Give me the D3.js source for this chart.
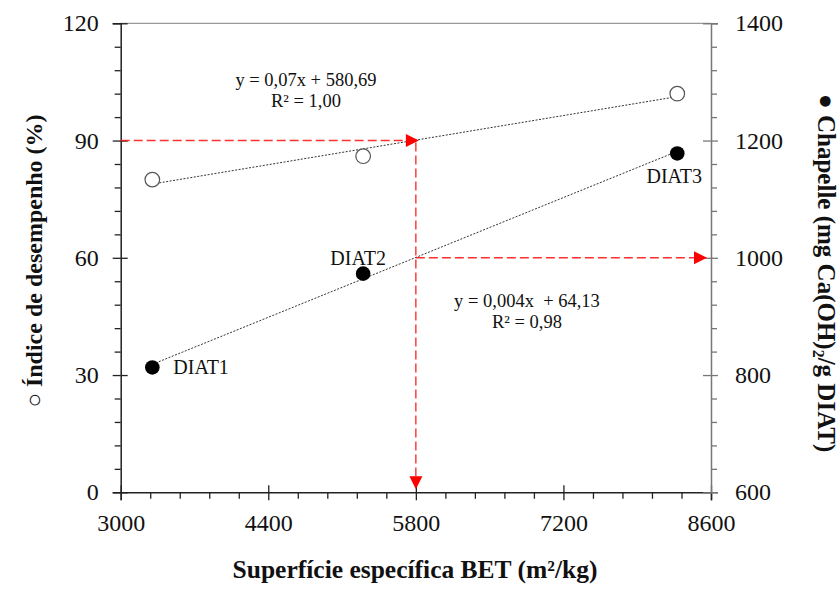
<!DOCTYPE html>
<html>
<head>
<meta charset="utf-8">
<script src="https://cdn.jsdelivr.net/npm/d3@7"></script>
<style>
  body { margin: 0; background: #fff; }
</style>
</head>
<body>
<div id="chart"></div>
<script>
// data
var samples = ["DIAT1", "DIAT2", "DIAT3"];
var betArea = [3300, 5300, 8280];          // m2/kg
var indice = [80, 86, 102];                // % (left axis, open circles)
var chapelle = [813, 973, 1178];           // mg Ca(OH)2/g (right axis, filled)
var xTicks = [3000, 4400, 5800, 7200, 8600];
var yLeftTicks = [0, 30, 60, 90, 120];
var yRightTicks = [600, 800, 1000, 1200, 1400];
var eqChapelle = ["y = 0,07x + 580,69", "R\u00b2 = 1,00"];
var eqIndice = ["y = 0,004x  + 64,13", "R\u00b2 = 0,98"];
// reading guide (red arrows)
var guideX = 5800, guideIndice = 90, guideChapelle = 1000;

var FONT = "'Liberation Serif', 'Times New Roman', serif";
var W = 840, H = 589;
var margin = {top: 23.3, right: 129, bottom: 96.7, left: 120.7};
var width = W - margin.left - margin.right,
    height = H - margin.top - margin.bottom;

var svg = d3.select("#chart").append("svg")
    .attr("width", W).attr("height", H)
    .attr("font-family", FONT);
svg.append("rect").attr("width", W).attr("height", H).attr("fill", "#fff");

var g = svg.append("g")
    .attr("transform", `translate(${margin.left},${margin.top})`);

var x = d3.scaleLinear().domain([3000, 8600]).range([0, width]);
var yL = d3.scaleLinear().domain([0, 120]).range([height, 0]);
var yR = d3.scaleLinear().domain([600, 1400]).range([height, 0]);
var fmt = d3.format("d");

function minors(ticks, n) {
  var out = [];
  for (var i = 0; i < ticks.length - 1; i++) {
    var step = (ticks[i + 1] - ticks[i]) / n;
    for (var k = 1; k < n; k++) out.push(ticks[i] + k * step);
  }
  return out;
}

// top border
g.append("line").attr("x1", 0).attr("x2", width).attr("y1", 0).attr("y2", 0)
  .attr("stroke", "#999").attr("stroke-width", 1.2);

function styleAxis(sel, col) {
  sel.attr("font-family", FONT).attr("font-size", 24);
  sel.select(".domain").attr("stroke", col).attr("stroke-width", 1.5);
  sel.selectAll(".tick line").attr("stroke", col).attr("stroke-width", 1.3);
  sel.selectAll("text").attr("fill", "#111").attr("font-family", FONT).attr("font-size", "24px");
}

// bottom axis
var gx = g.append("g").attr("transform", `translate(0,${height})`)
  .call(d3.axisBottom(x).tickValues(xTicks).tickFormat(fmt).tickSizeOuter(0).tickSize(8).tickPadding(14));
styleAxis(gx, "#222");
var gx2 = g.append("g").attr("transform", `translate(0,${height})`)
  .call(d3.axisBottom(x).tickValues(xTicks).tickSize(-7).tickFormat(""));
styleAxis(gx2, "#222");
gx2.select(".domain").remove();
var gx3 = g.append("g").attr("transform", `translate(0,${height})`)
  .call(d3.axisBottom(x).tickValues(minors(xTicks, 5)).tickSize(6.5).tickFormat(""));
styleAxis(gx3, "#222");
gx3.select(".domain").remove();

// left axis
var gl = g.append("g")
  .call(d3.axisLeft(yL).tickValues(yLeftTicks).tickFormat(fmt).tickSizeOuter(0).tickSize(8).tickPadding(14));
styleAxis(gl, "#222");
var gl2 = g.append("g")
  .call(d3.axisLeft(yL).tickValues(yLeftTicks).tickSize(-7).tickFormat(""));
styleAxis(gl2, "#222");
gl2.select(".domain").remove();
var gl3 = g.append("g")
  .call(d3.axisLeft(yL).tickValues(minors(yLeftTicks, 5)).tickSize(6).tickFormat(""));
styleAxis(gl3, "#222");
gl3.select(".domain").remove();

// right axis
var gr = g.append("g").attr("transform", `translate(${width},0)`)
  .call(d3.axisRight(yR).tickValues(yRightTicks).tickFormat(fmt).tickSizeOuter(0).tickSize(7).tickPadding(17));
styleAxis(gr, "#777");
var gr2 = g.append("g").attr("transform", `translate(${width},0)`)
  .call(d3.axisRight(yR).tickValues(yRightTicks).tickSize(-8).tickFormat(""));
styleAxis(gr2, "#777");
gr2.select(".domain").remove();
var gr3 = g.append("g").attr("transform", `translate(${width},0)`)
  .call(d3.axisRight(yR).tickValues(minors(yRightTicks, 5)).tickSize(6).tickFormat(""));
styleAxis(gr3, "#777");
gr3.select(".domain").remove();

// least squares fit
function fit(xs, ys) {
  var mx = d3.mean(xs), my = d3.mean(ys);
  var sxy = d3.sum(xs, (v, i) => (v - mx) * (ys[i] - my));
  var sxx = d3.sum(xs, v => (v - mx) * (v - mx));
  var b = sxy / sxx;
  return {b: b, a: my - b * mx};
}
var fitI = fit(betArea, indice), fitC = fit(betArea, chapelle);
var xs = d3.extent(betArea);

var line = d3.line();
g.append("path")
  .attr("d", line(xs.map(v => [x(v), yL(fitI.a + fitI.b * v)])))
  .attr("fill", "none").attr("stroke", "#333").attr("stroke-width", 1)
  .attr("stroke-dasharray", "2,1.5");
g.append("path")
  .attr("d", line(xs.map(v => [x(v), yR(fitC.a + fitC.b * v)])))
  .attr("fill", "none").attr("stroke", "#333").attr("stroke-width", 1)
  .attr("stroke-dasharray", "2,1.5");

// red reading guides
var red = "#ff1a1a";
function dashed(pts) {
  g.append("path").attr("d", line(pts))
    .attr("fill", "none").attr("stroke", red).attr("stroke-width", 1.4)
    .attr("stroke-dasharray", "9,4").attr("opacity", 0.9);
}
function arrowHead(tx, ty, dir) {
  var L = 13, hw = 6.5, p;
  if (dir === "right") p = [[tx, ty], [tx - L, ty - hw], [tx - L, ty + hw]];
  else p = [[tx, ty], [tx - hw, ty - L], [tx + hw, ty - L]];
  g.append("path").attr("d", line(p) + "Z").attr("fill", "#ff0000");
}
var gx0 = x(guideX);
dashed([[0, yL(guideIndice)], [gx0 - 8, yL(guideIndice)]]);
arrowHead(gx0 + 3, yL(guideIndice), "right");
dashed([[gx0, yL(guideIndice) + 2], [gx0, yL(0) - 12]]);
arrowHead(gx0, yL(0) - 3, "down");
dashed([[gx0, yR(guideChapelle)], [width - 16, yR(guideChapelle)]]);
arrowHead(width - 4, yR(guideChapelle), "right");

// markers
g.selectAll(".open").data(betArea).enter().append("circle")
  .attr("cx", d => x(d)).attr("cy", (d, i) => yL(indice[i])).attr("r", 7.3)
  .attr("fill", "#fff").attr("stroke", "#555").attr("stroke-width", 1.2);
g.selectAll(".filled").data(betArea).enter().append("circle")
  .attr("cx", d => x(d)).attr("cy", (d, i) => yR(chapelle[i])).attr("r", 7.3)
  .attr("fill", "#000");

// sample labels
var lab = [
  {dx: 21, dy: 7, anchor: "start"},
  {dx: -5, dy: -9, anchor: "middle"},
  {dx: -3, dy: 30, anchor: "middle"}
];
g.selectAll(".lab").data(samples).enter().append("text")
  .attr("x", (d, i) => x(betArea[i]) + lab[i].dx)
  .attr("y", (d, i) => yR(chapelle[i]) + lab[i].dy)
  .attr("text-anchor", (d, i) => lab[i].anchor)
  .attr("font-size", "20px").attr("fill", "#111")
  .text(d => d);

// equations
function eq(lines, cx, cy) {
  var t = g.append("text").attr("text-anchor", "middle")
    .attr("font-size", "18.5px").attr("fill", "#111")
    .attr("x", cx).attr("y", cy).attr("xml:space", "preserve");
  lines.forEach((s, i) => t.append("tspan").attr("x", cx).attr("dy", i ? 21 : 0).text(s));
}
eq(eqChapelle, 306 - margin.left, 86 - margin.top);
eq(eqIndice, 527 - margin.left, 307 - margin.top);

// axis titles
svg.append("text").attr("x", 415).attr("y", 578)
  .attr("text-anchor", "middle").attr("font-weight", "bold").attr("font-size", "25.5px")
  .attr("fill", "#111").text("Superfície específica BET (m²/kg)");

svg.append("text").attr("transform", "translate(42,261) rotate(-90)")
  .attr("text-anchor", "middle").attr("font-weight", "bold").attr("font-size", "24px")
  .attr("fill", "#111").text("\u25cb Índice de desempenho (%)");

var rt = svg.append("text").attr("transform", "translate(818,273) rotate(90)")
  .attr("text-anchor", "middle").attr("font-weight", "bold").attr("font-size", "25px")
  .attr("fill", "#111");
rt.append("tspan").text("\u25cf Chapelle (mg Ca(OH)");
rt.append("tspan").attr("font-size", "16px").attr("dy", 5).text("2");
rt.append("tspan").attr("dy", -5).text("/g DIAT)");
</script>
</body>
</html>
